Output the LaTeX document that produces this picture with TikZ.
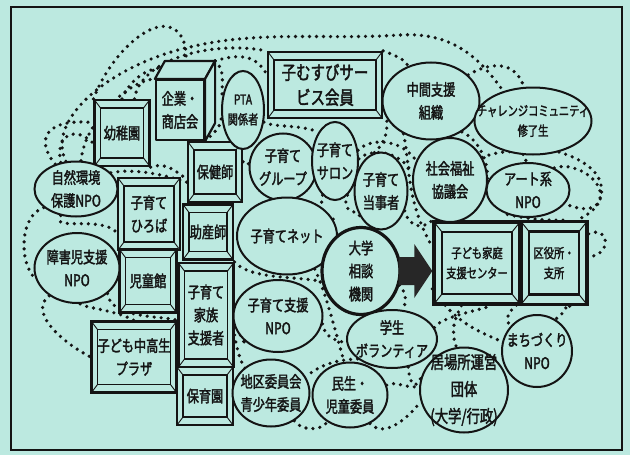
\documentclass[tikz,border=0pt]{standalone}
\usepackage{fontspec}
\newfontfamily\jp[FakeStretch=0.76,FakeBold=2]{Noto Sans CJK JP}
\usetikzlibrary{shapes.geometric,calc}
\definecolor{bg}{RGB}{188,233,224}
\definecolor{ink}{RGB}{20,20,20}
\pgfdeclarelayer{web}
\pgfsetlayers{web,main}
\tikzset{
  txt/.style={font=\jp\fontsize{16pt}{23pt}\selectfont, align=center, inner sep=0pt, text=ink},
  smalltxt/.style={font=\jp\fontsize{13.5pt}{20pt}\selectfont},
  bigtxt/.style={font=\jp\fontsize{19pt}{25pt}\selectfont},
  largetxt/.style={font=\jp\fontsize{17.5pt}{27pt}\selectfont},
  blob/.style={ellipse, draw=ink, line width=2pt, fill=bg, inner sep=0pt},
  framebox/.style={rectangle, draw=ink, line width=2.2pt, fill=bg, txt,
    path picture={
      \draw[ink, line width=1.8pt]
        ([shift={(6pt,-8pt)}]path picture bounding box.north west) rectangle
        ([shift={(-6pt,8pt)}]path picture bounding box.south east);
      \draw[ink, line width=0.9pt]
        (path picture bounding box.north west) -- ++(6pt,-8pt)
        (path picture bounding box.north east) -- ++(-6pt,-8pt)
        (path picture bounding box.south west) -- ++(6pt,8pt)
        (path picture bounding box.south east) -- ++(-6pt,8pt);
    }},
  bigbox/.style={rectangle, draw=ink, line width=3.4pt, fill=bg, txt, smalltxt,
    path picture={
      \draw[ink, line width=2.4pt]
        ([shift={(8pt,-10pt)}]path picture bounding box.north west) rectangle
        ([shift={(-8pt,10pt)}]path picture bounding box.south east);
      \draw[ink, line width=1pt]
        (path picture bounding box.north west) -- ++(8pt,-10pt)
        (path picture bounding box.north east) -- ++(-8pt,-10pt)
        (path picture bounding box.south west) -- ++(8pt,10pt)
        (path picture bounding box.south east) -- ++(-8pt,10pt);
    }},
  cubeface/.style={draw=ink, line width=2.2pt, fill=bg, line join=round},
  web/.style={draw=ink, line width=3.6pt, line cap=round, dash pattern=on 0pt off 7pt},
  bigarrow/.style={fill=ink!92},
}

\begin{document}
\begin{tikzpicture}[x=1pt, y=-1pt]
  \useasboundingbox (0,0) rectangle (630,455);
  \begin{pgfonlayer}{web}
    \fill[bg] (0,0) rectangle (630,455);
  \end{pgfonlayer}
  \draw[ink, line width=1.4pt] (11,7) rectangle (622,450);

  % framed boxes
  \node[framebox, minimum width=55pt, minimum height=66pt] (yochien) at (122,133) {幼稚園};
  \node[framebox, bigtxt, minimum width=114pt, minimum height=66pt] (komusubi) at (325,85) {子むすびサー\\ビス会員};
  \node[framebox, minimum width=54pt, minimum height=60pt] (hokenshi) at (215,172) {保健師};
  \node[framebox, minimum width=62pt, minimum height=72pt] (hiroba) at (149,214) {子育て\\ひろば};
  \node[framebox, minimum width=50pt, minimum height=55pt] (josanshi) at (208,232) {助産師};
  \node[framebox, minimum width=57pt, minimum height=63pt] (jidokan) at (148,281) {児童館};
  \node[framebox, minimum width=55pt, minimum height=104pt] (kazoku) at (206,315) {子育て\\家族\\支援者};
  \node[framebox, minimum width=85pt, minimum height=71pt] (plaza) at (134,357) {子ども中高生\\プラザ};
  \node[framebox, minimum width=56pt, minimum height=58pt] (hoikuen) at (205,396) {保育園};
  \node[bigbox, minimum width=86pt, minimum height=82pt] (center) at (477,263) {子ども家庭\\支援センター};
  \node[bigbox, minimum width=66pt, minimum height=83pt] (kuyakusho) at (554,263) {区役所・\\支所};

  % the cube
  \node[cubeface, txt, minimum width=48pt, minimum height=60pt] (kigyo) at (180,110) {企業・\\商店会};
  \coordinate (kigyo-tl) at ($(kigyo.north west)+(10,-18)$);
  \coordinate (kigyo-tr) at ($(kigyo.north east)+(10,-18)$);
  \coordinate (kigyo-br) at ($(kigyo.south east)+(10,-18)$);
  \coordinate (kigyo-top) at ($(kigyo.north)+(5,-9)$);
  \filldraw[cubeface] (kigyo.north west) -- (kigyo-tl) -- (kigyo-tr) -- (kigyo.north east) -- cycle;
  \filldraw[cubeface] (kigyo.north east) -- (kigyo-tr) -- (kigyo-br) -- (kigyo.south east) -- cycle;

  % ellipses
  \node[blob, minimum width=42pt, minimum height=78pt, label={[txt,smalltxt]center:PTA\\関係者}] (pta) at (243,110) {};
  \node[blob, minimum width=97pt, minimum height=77pt, label={[txt]center:中間支援\\組織}] (chukan) at (431,101) {};
  \node[blob, minimum width=117pt, minimum height=67pt, label={[txt,smalltxt]center:チャレンジコミュニティ\\修了生}] (challenge) at (533,121) {};
  \node[blob, minimum width=67pt, minimum height=67pt, label={[txt]center:子育て\\グループ}] (group) at (283,167) {};
  \node[blob, minimum width=46pt, minimum height=78pt, label={[txt]center:子育て\\サロン}] (salon) at (335,161) {};
  \node[blob, minimum width=53pt, minimum height=77pt, label={[txt]center:子育て\\当事者}] (tojisha) at (381,191) {};
  \node[blob, minimum width=74pt, minimum height=84pt, label={[txt]center:社会福祉\\協議会}] (shakyo) at (450,180) {};
  \node[blob, minimum width=83pt, minimum height=54pt, label={[txt]center:アート系\\NPO}] (art) at (528,190) {};
  \node[blob, minimum width=83pt, minimum height=55pt, label={[txt]center:自然環境\\保護NPO}] (shizen) at (76,189) {};
  \node[blob, minimum width=100pt, minimum height=77pt, label={[txt]center:子育てネット}] (net) at (287,236) {};
  \node[blob, line width=3.2pt, minimum width=78pt, minimum height=87pt, label={[txt]center:大学\\相談\\機関}] (daigaku) at (361,271) {};
  \node[blob, minimum width=85pt, minimum height=70pt, label={[txt]center:障害児支援\\NPO}] (shogai) at (77,268) {};
  \node[blob, minimum width=89pt, minimum height=72pt, label={[txt]center:子育て支援\\NPO}] (shienNPO) at (278,316) {};
  \node[blob, minimum width=90pt, minimum height=58pt, label={[txt]center:学生\\ボランティア}] (gakusei) at (392,339) {};
  \node[blob, minimum width=77pt, minimum height=67pt, label={[txt]center:地区委員会\\青少年委員}] (chiku) at (271,393) {};
  \node[blob, minimum width=75pt, minimum height=65pt, label={[txt]center:民生・\\児童委員}] (minsei) at (350,395) {};
  \node[blob, minimum width=88pt, minimum height=85pt, label={[txt,largetxt]center:居場所運営\\団体\\(大学/行政)}] (ibasho) at (464,390) {};
  \node[blob, minimum width=70pt, minimum height=72pt, label={[txt]center:まちづくり\\NPO}] (machi) at (537,351) {};

  % arrow
  \fill[bigarrow] ($(daigaku.east)+(-3,-14)$) -- ($(center.west |- daigaku.east)+(-18,-14)$)
    -- ($(center.west |- daigaku.east)+(-18,-27)$) -- (center.west |- daigaku.east)
    -- ($(center.west |- daigaku.east)+(-18,27)$) -- ($(center.west |- daigaku.east)+(-18,14)$)
    -- ($(daigaku.east)+(-3,14)$) -- cycle;

  % the dotted web
  \begin{pgfonlayer}{web}
    \draw[web] (yochien.north west) .. controls (110,55) and (150,18) .. (172,28) .. controls (185,34) and (188,50) .. (kigyo-top);
    \draw[web] (shizen.110) .. controls (45,120) and (110,65) .. (190,47) .. controls (260,30) and (330,40) .. (400,35) .. controls (450,32) and (478,55) .. (challenge.135);
    \draw[web] (shizen.80) .. controls (85,120) and (130,80) .. (kigyo.north west);
    \draw[web] (shizen.130) .. controls (35,140) and (45,118) .. (yochien.160);
    \draw[web] (shizen.120) .. controls (55,135) and (75,125) .. (yochien.200);
    \draw[web] (yochien.70) .. controls (140,60) and (210,40) .. (komusubi.north west);
    \draw[web] (yochien.north) .. controls (130,80) and (150,60) .. (kigyo-top);
    \draw[web] (kigyo-tr) .. controls (235,55) and (255,52) .. (komusubi.170);
    \draw[web] (kigyo-tr) .. controls (225,70) and (222,80) .. (pta.150);
    \draw[web] (kigyo.south east) .. controls (215,132) and (220,128) .. (pta.200);
    \draw[web] (pta.-30) .. controls (275,128) and (300,124) .. (salon.120);
    \draw[web] (komusubi.-15) .. controls (390,125) and (388,140) .. (tojisha.100);
    \draw[web] (komusubi.north east) .. controls (395,55) and (410,62) .. (chukan.125);
    \draw[web] (chukan.35) .. controls (490,62) and (515,60) .. (challenge.105);
    \draw[web] (salon.25) .. controls (370,138) and (400,138) .. (shakyo.150);
    \draw[web] (salon.5) .. controls (370,148) and (400,150) .. (shakyo.170);
    \draw[web] (chukan.-45) .. controls (480,140) and (490,165) .. (art.170);
    \draw[web] (shakyo.35) .. controls (500,150) and (530,148) .. (art.95);
    \draw[web] (challenge.-50) .. controls (585,160) and (608,175) .. (600,200) .. controls (595,212) and (578,210) .. (art.-20);
    \draw[web] (art.40) .. controls (575,160) and (615,185) .. (595,208) .. controls (585,218) and (575,220) .. (kuyakusho.60);
    \draw[web] (kuyakusho.40) .. controls (610,225) and (612,255) .. (kuyakusho.10);
    \draw[web] (art.-130) .. controls (540,222) and (565,220) .. (kuyakusho.70);
    \draw[web] (chukan.-130) .. controls (410,160) and (405,200) .. (center.160);
    \draw[web] (tojisha.-40) .. controls (410,230) and (425,228) .. (center.north west);
    \draw[web] (salon.-70) .. controls (340,215) and (360,210) .. (tojisha.-130);
    \draw[web] (net.20) .. controls (330,240) and (330,265) .. (daigaku.150);
    \draw[web] (salon.-110) .. controls (320,215) and (315,245) .. (daigaku.165);
    \draw[web] (kazoku.north east) .. controls (250,280) and (300,276) .. (daigaku.195);
    \draw[web] (hokenshi.north east) .. controls (250,140) and (240,140) .. (pta.-120);
    \draw[web] (hokenshi.20) .. controls (250,160) and (245,162) .. (group.175);
    \draw[web] (yochien.south east) .. controls (165,162) and (175,170) .. (hokenshi.195);
    \draw[web] (shizen.25) .. controls (135,168) and (165,175) .. (hokenshi.200);
    \draw[web] (shizen.-150) .. controls (20,215) and (18,262) .. (shogai.-165);
    \draw[web] (shizen.-120) .. controls (50,232) and (100,215) .. (hiroba.-150);
    \draw[web] (shogai.-135) .. controls (30,310) and (55,338) .. (plaza.west);
    \draw[web] (shogai.-85) .. controls (85,308) and (115,310) .. (plaza.north);
    \draw[web] (shogai.-40) .. controls (110,318) and (160,316) .. (kazoku.190);
    \draw[web] (kazoku.-15) .. controls (245,345) and (248,350) .. (shienNPO.-145);
    \draw[web] (kazoku.-35) .. controls (240,370) and (250,370) .. (chiku.140);
    \draw[web] (shienNPO.-10) .. controls (325,338) and (335,340) .. (gakusei.185);
    \draw[web] (net.-50) .. controls (325,290) and (335,330) .. (minsei.100);
    \draw[web] (gakusei.-150) .. controls (335,360) and (320,365) .. (chiku.25);
    \draw[web] (gakusei.-60) .. controls (410,385) and (415,390) .. (ibasho.165);
    \draw[web] (minsei.15) .. controls (395,380) and (410,390) .. (ibasho.175);
    \draw[web] (chiku.-50) .. controls (300,430) and (320,432) .. (minsei.-130);
    \draw[web] (minsei.-55) .. controls (380,435) and (400,428) .. (ibasho.-165);
    \draw[web] (center.-150) .. controls (455,322) and (475,330) .. (machi.165);
    \draw[web] (center.-110) .. controls (455,318) and (450,330) .. (ibasho.100);
    \draw[web] (gakusei.15) .. controls (440,318) and (470,312) .. (center.-70);
    \draw[web] (daigaku.-20) .. controls (405,292) and (408,300) .. (gakusei.70);
    \draw[web] (center.-40) .. controls (500,318) and (510,320) .. (machi.140);
    \draw[web] (kuyakusho.-70) .. controls (565,300) and (570,310) .. (machi.60);
  \end{pgfonlayer}
\end{tikzpicture}
\end{document}
